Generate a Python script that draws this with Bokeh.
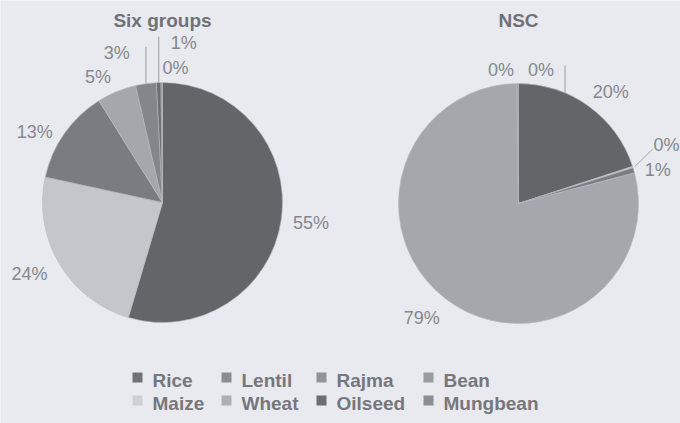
import math
from bokeh.plotting import figure
from bokeh.models import Range1d, ColumnDataSource
from bokeh.embed import file_html
from bokeh.resources import INLINE
from bokeh.core.properties import value

# ---------------- data ----------------
categories = ["Rice", "Maize", "Lentil", "Wheat", "Rajma", "Oilseed", "Bean", "Mungbean"]
six_groups = [54.6, 23.8, 12.7, 5.3, 2.8, 0.6, 0.2, 0.0]
nsc = [20.0, 0.2, 0.7, 78.9, 0.1, 0.1, 0.0, 0.0]
pie_titles = ["Six groups", "NSC"]
legend_rows = [["Rice", "Lentil", "Rajma", "Bean"],
               ["Maize", "Wheat", "Oilseed", "Mungbean"]]

# ---------------- styles / layout ----------------
W, H = 680, 423
BG = "#e8eaef"
slice_colors = {"Rice": "#646569", "Maize": "#c5c6cc", "Lentil": "#7b7c82",
                "Wheat": "#a6a7ad", "Rajma": "#85868c", "Oilseed": "#6c6d72",
                "Bean": "#909197", "Mungbean": "#8c8d92"}
legend_colors = {"Rice": "#707176", "Lentil": "#8b8c92", "Rajma": "#929399",
                 "Bean": "#9a9ba1", "Maize": "#cfd0d6", "Wheat": "#aeafb5",
                 "Oilseed": "#6c6d72", "Mungbean": "#8c8d92"}
FONT = value("Liberation Sans")
centers_screen = [(162, 202), (518, 203)]
R = 120
GAP, HW, HH = 10, 20, 9
# label nudges in screen px (dx, dy-down)
nudges = [
    {"Lentil": (-5, 9), "Wheat": (-7, 3), "Rajma": (-25, -12), "Oilseed": (26, -21),
     "Bean": (14, 4), "Maize": (-4, 1)},
    {"Rice": (4, 1), "Maize": (5, -16), "Lentil": (-5, 5), "Wheat": (-6, 4),
     "Rajma": (-16, 5), "Oilseed": (23, 5)},
]

p = figure(width=W, height=H, output_backend="svg", toolbar_location=None,
           x_range=Range1d(0, W), y_range=Range1d(0, H), min_border=0)
p.axis.visible = False
p.grid.visible = False
p.outline_line_color = None
p.background_fill_color = BG
p.border_fill_color = BG


def sy(y):
    return H - y


for k, vals in enumerate([six_groups, nsc]):
    cx, cy_s = centers_screen[k]
    cy = sy(cy_s)
    total = sum(vals)
    cum = 0.0
    ws = dict(start=[], end=[], color=[])
    lx, ly, lt = [], [], []
    for cat, v in zip(categories, vals):
        a = cum / total
        b = (cum + v) / total
        cum += v
        if v <= 0:
            continue
        ws["start"].append(math.pi / 2 - 2 * math.pi * b)
        ws["end"].append(math.pi / 2 - 2 * math.pi * a)
        ws["color"].append(slice_colors[cat])
        th = 2 * math.pi * (a + b) / 2
        ux, uy = math.sin(th), math.cos(th)
        d = R + GAP
        x = cx + ux * d + ux * HW
        y = cy + uy * d + uy * HH
        dx, dy = nudges[k].get(cat, (0, 0))
        x += dx
        y -= dy
        lx.append(x)
        ly.append(y)
        lt.append(f"{round(v)}%")
        # leader lines
        if k == 0 and cat in ("Rajma", "Oilseed"):
            ex, ey = cx + ux * R, cy + uy * R
            p.line([ex, ex], [ey, y + 6], line_color="#9a9ba1", line_width=1)
        if k == 1 and cat == "Oilseed":
            lxx = x + 24
            ey = cy + math.sqrt(R * R - (lxx - cx) ** 2)
            p.line([lxx, lxx], [y + 4, ey], line_color="#9a9ba1", line_width=1)
        if k == 1 and cat == "Maize":
            ex, ey = cx + ux * (R + 2), cy + uy * (R + 2)
            p.line([ex, x - 14], [ey, y - 4], line_color="#a4a5ab", line_width=1)
    src = ColumnDataSource(ws)
    p.wedge(x=cx, y=cy, radius=R, start_angle="start", end_angle="end",
            direction="anticlock", fill_color="color", line_color="#b8bac0",
            line_width=0.6, source=src)
    p.text(x=lx, y=ly, text=lt, text_align="center", text_baseline="middle",
           text_font=FONT, text_font_size="18px", text_color="#86878d")
    p.text(x=[cx], y=[sy(20)], text=[pie_titles[k]], text_align="center",
           text_baseline="middle", text_font=FONT, text_font_size="19px",
           text_font_style="bold", text_color="#707177")

# legend
col_x = [137, 226, 321, 428]
row_y = [380, 403]
for r, row in enumerate(legend_rows):
    for c, cat in enumerate(row):
        p.scatter(x=[col_x[c]], y=[sy(row_y[r] - 3)], marker="square", size=10,
                  fill_color=legend_colors[cat], line_color=None)
        p.text(x=[col_x[c] + 15], y=[sy(row_y[r])], text=[cat], text_align="left",
               text_baseline="middle", text_font=FONT, text_font_size="19px",
               text_font_style="bold", text_color="#76777d")

open("out.html", "w").write(file_html(p, INLINE))
